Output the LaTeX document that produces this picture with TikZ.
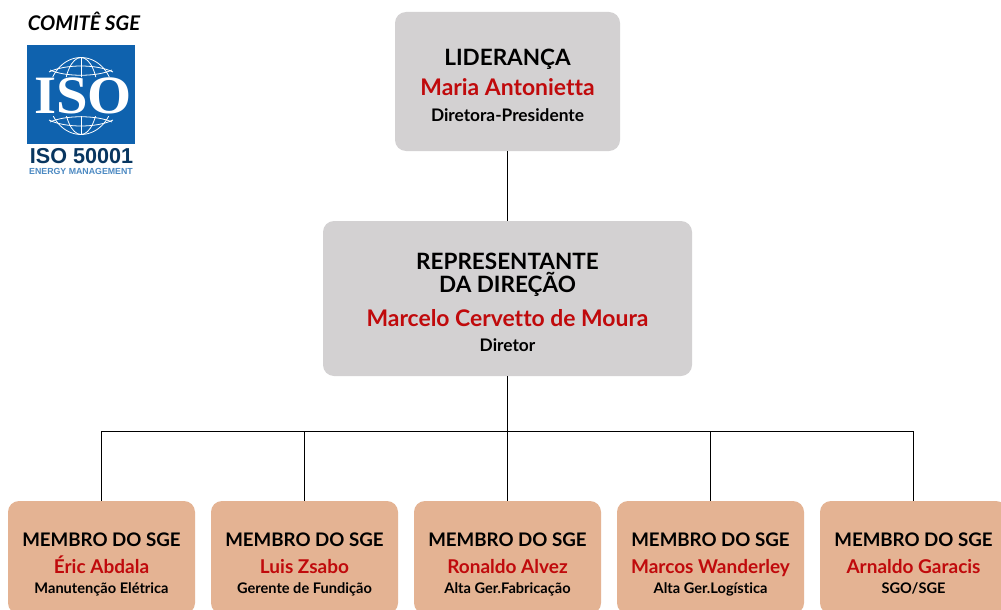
\documentclass[tikz,border=0pt]{standalone}
\usepackage{fontspec}
\setmainfont{Lato}[UprightFont=* Bold,BoldFont=* Bold,ItalicFont=* Bold Italic,BoldItalicFont=* Bold Italic,Ligatures=NoCommon]
\newfontfamily\logoserif{Liberation Serif}[BoldFont=* Bold]
\newfontfamily\logosans{Liberation Sans}[BoldFont=* Bold]
\definecolor{grayBox}{HTML}{D3D1D2}
\definecolor{peachBox}{HTML}{E4B393}
\definecolor{nameRed}{HTML}{C00A0C}
\definecolor{isoBlue}{HTML}{0F62AE}
\tikzset{
 x=1pt,y=-1pt,
 boxg/.style={draw=none,fill=grayBox,rounded corners=11pt,minimum width=#1,inner sep=0pt,outer sep=0pt},
 boxp/.style={draw=none,fill=peachBox,rounded corners=11pt,minimum width=187pt,minimum height=113pt,inner sep=0pt,outer sep=0pt},
 txt/.style={inner sep=0pt,outer sep=0pt,anchor=center,align=center,text height=0.72em,text depth=0.0em},
 title/.style={txt,font=\fontsize{22.5}{24}\selectfont,text=black},
 mtitle/.style={txt,font=\fontsize{18.7}{20}\selectfont,text=black},
 bigname/.style={txt,font=\fontsize{22.9}{24}\selectfont,text=nameRed},
 mname/.style={txt,font=\fontsize{19}{20}\selectfont,text=nameRed},
 role/.style={txt,font=\fontsize{17.3}{18}\selectfont,text=black},
 mrole/.style={txt,font=\fontsize{14.6}{16}\selectfont,text=black},
 wire/.style={draw=black,line width=0.8pt},
 globe/.style={draw=white,line width=0.8pt},
}
\newcommand{\memberbox}[5]{%
 \node[boxp] (#1) at (#2,557.5) {};
 \node[mtitle] (#1t) at (#2,543) {MEMBRO DO SGE};
 \node[mname] (#1n) at (#2,569.5) {#3};
 \node[mrole] (#1r) at (#2,590) {#4};
 \draw[wire] (#5) -- (#1.north);
}
\begin{document}
\begin{tikzpicture}
\clip (0,0) rectangle (1001,610);
\path[fill=white] (0,0) rectangle (1001,610);
% logo
\node[txt,font=\fontsize{20.2}{22}\selectfont\itshape] (comite) at (84,26.5) {COMITÊ SGE};
\path[fill=isoBlue] (27,45) rectangle (135,144);
\begin{scope}
 \clip (27,45) rectangle (135,77) (27,116) rectangle (135,144);
 \draw[globe] (81,96) circle[x radius=32.5,y radius=38.5];
 \draw[globe] (81,96) circle[x radius=17,y radius=38.5];
 \draw[globe] (81,57.5) -- (81,134.5);
 \draw[globe] (49,72) .. controls (65,64) and (97,64) .. (113,72);
 \draw[globe] (50,70) .. controls (65,77) and (97,77) .. (112,70);
 \draw[globe] (49,120) .. controls (65,128) and (97,128) .. (113,120);
 \draw[globe] (50,122) .. controls (65,115) and (97,115) .. (112,122);
\end{scope}
\node[inner sep=0pt,outer sep=0pt,text=white,font=\logoserif\bfseries\fontsize{54}{54}\selectfont,xscale=1.05] (isotext) at (83,96) {ISO};
\node[inner sep=0pt,outer sep=0pt,text=isoBlue!55!black,font=\logosans\bfseries\fontsize{21.6}{23}\selectfont] (iso50001) at (81.5,156) {ISO 50001};
\node[inner sep=0pt,outer sep=0pt,text=isoBlue!75,font=\logosans\bfseries\fontsize{8.8}{10}\selectfont] (energy) at (81,171) {ENERGY MANAGEMENT};
% lideranca
\node[boxg=225pt,minimum height=139pt] (lid) at (507.5,81.5) {};
\node[title] (lidt) at (507.5,62) {LIDERANÇA};
\node[bigname] (lidn) at (507.5,92) {Maria Antonietta};
\node[role] (lidr) at (507.5,117.5) {Diretora-Presidente};
% representante
\node[boxg=369pt,minimum height=155pt] (rep) at (507.5,298.5) {};
\node[title] (rept1) at (507.5,266) {REPRESENTANTE};
\node[title] (rept2) at (507.5,289) {DA DIREÇÃO};
\node[bigname] (repn) at (507.5,323) {Marcelo Cervetto de Moura};
\node[role] (repr) at (507.5,347.5) {Diretor};
\draw[wire] (lid.south) -- (rep.north);
% bus
\coordinate (busa) at (101.5,431);
\coordinate (busb) at (304.5,431);
\coordinate (busc) at (507.5,431);
\coordinate (busd) at (710.5,431);
\coordinate (buse) at (913.5,431);
\draw[wire] (rep.south) -- (busc);
\draw[wire] (busa) -- (buse);
\memberbox{ma}{101.5}{Éric Abdala}{Manutenção Elétrica}{busa}
\memberbox{mb}{304.5}{Luis Zsabo}{Gerente de Fundição}{busb}
\memberbox{mc}{507.5}{Ronaldo Alvez}{Alta Ger.Fabricação}{busc}
\memberbox{md}{710.5}{Marcos Wanderley}{Alta Ger.Logística}{busd}
\memberbox{me}{913.5}{Arnaldo Garacis}{SGO/SGE}{buse}
\end{tikzpicture}
\end{document}
